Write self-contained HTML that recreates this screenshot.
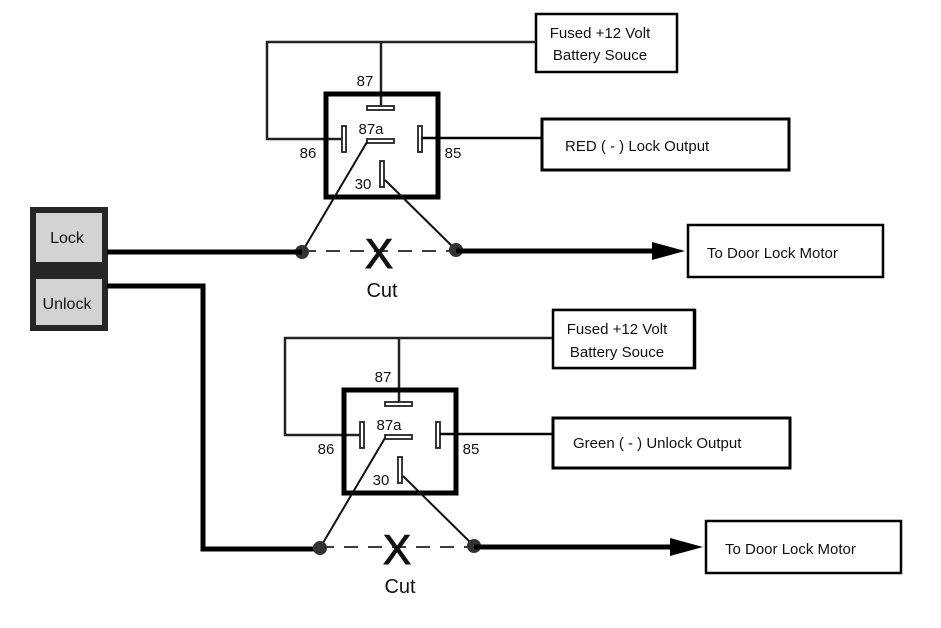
<!DOCTYPE html>
<html><head><style>
html,body{margin:0;padding:0;background:#fff;}
svg{display:block;}
text{font-family:"Liberation Sans",sans-serif;fill:#111;}
</style></head><body>
<svg width="941" height="628" viewBox="0 0 941 628" xmlns="http://www.w3.org/2000/svg">
<rect x="30" y="207" width="78" height="124" fill="#262626"/>
<rect x="36" y="213" width="66" height="49" fill="#d3d3d3"/>
<rect x="36" y="279" width="66" height="46" fill="#d3d3d3"/>
<text x="67" y="243" font-size="16" text-anchor="middle">Lock</text>
<text x="67" y="309" font-size="16" text-anchor="middle">Unlock</text>
<polyline points="107,286 203,286 203,549 320,549" fill="none" stroke="#000" stroke-width="5"/>

<g id="r">
<rect x="536" y="14" width="141" height="58" fill="#fff" stroke="#000" stroke-width="2.5"/>
<polyline points="536,42 267,42 267,139 343,139" fill="none" stroke="#222" stroke-width="2.5"/>
<line x1="381" y1="42" x2="381" y2="106" stroke="#222" stroke-width="2.5"/>
<rect x="326" y="94" width="112" height="103" fill="none" stroke="#000" stroke-width="5"/>
<rect x="367" y="106" width="27" height="4" fill="#fff" stroke="#222" stroke-width="1.8"/>
<rect x="342" y="126" width="4" height="26" fill="#fff" stroke="#222" stroke-width="1.8"/>
<rect x="418" y="126" width="4" height="26" fill="#fff" stroke="#222" stroke-width="1.8"/>
<rect x="367" y="139" width="27" height="4" fill="#fff" stroke="#222" stroke-width="1.8"/>
<rect x="380" y="161" width="4" height="26" fill="#fff" stroke="#222" stroke-width="1.8"/>
<line x1="422" y1="138" x2="543" y2="138" stroke="#000" stroke-width="2.5"/>
<text x="365" y="86" font-size="15" text-anchor="middle">87</text>
<text x="371" y="134" font-size="15" text-anchor="middle">87a</text>
<text x="308" y="158" font-size="15" text-anchor="middle">86</text>
<text x="453" y="158" font-size="15" text-anchor="middle">85</text>
<text x="363" y="189" font-size="15" text-anchor="middle">30</text>
<line x1="367" y1="142" x2="302" y2="252" stroke="#111" stroke-width="2"/>
<line x1="385" y1="180" x2="456" y2="250" stroke="#111" stroke-width="2"/>
<line x1="302" y1="251" x2="456" y2="251" stroke="#222" stroke-width="1.8" stroke-dasharray="14,10"/>
<circle cx="302" cy="252" r="7" fill="#333"/>
<circle cx="456" cy="250" r="7" fill="#333"/>
<text x="379" y="268" font-size="42" text-anchor="middle" stroke="#111" stroke-width="1">X</text>
<text x="382" y="297" font-size="20" text-anchor="middle">Cut</text>
<line x1="456" y1="251" x2="655" y2="251" stroke="#000" stroke-width="5"/>
<polygon points="652,242 685,251 652,260" fill="#000"/>
<rect x="688" y="225" width="195" height="52" fill="#fff" stroke="#000" stroke-width="2.5"/>
<text x="707" y="258" font-size="15">To Door Lock Motor</text>
</g>
<text x="600" y="38" font-size="15" text-anchor="middle">Fused +12 Volt</text>
<text x="600" y="60" font-size="15" text-anchor="middle">Battery Souce</text>
<rect x="542" y="119" width="247" height="51" fill="#fff" stroke="#000" stroke-width="3"/>
<text x="565" y="151" font-size="15">RED ( - ) Lock Output</text>
<line x1="107" y1="252" x2="302" y2="252" stroke="#000" stroke-width="5"/>

<use href="#r" transform="translate(18,296)"/>
<rect x="553" y="310" width="141" height="58" fill="#fff" stroke="#000" stroke-width="2.5"/>
<text x="617" y="334" font-size="15" text-anchor="middle">Fused +12 Volt</text>
<text x="617" y="357" font-size="15" text-anchor="middle">Battery Souce</text>
<rect x="553" y="418" width="237" height="50" fill="#fff" stroke="#000" stroke-width="3"/>
<text x="573" y="448" font-size="15">Green ( - ) Unlock Output</text>
</svg>
</body></html>
